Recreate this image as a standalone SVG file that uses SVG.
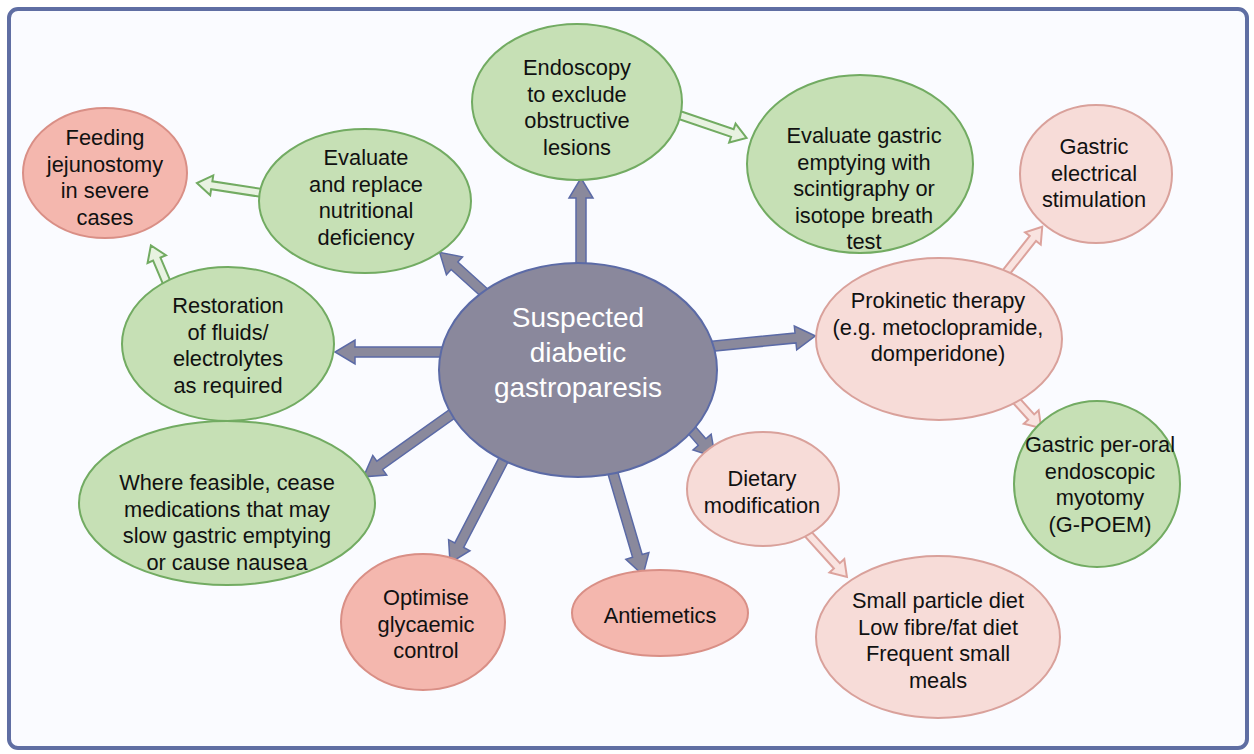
<svg xmlns="http://www.w3.org/2000/svg" width="1254" height="754" viewBox="0 0 1254 754">
<style>
text{font-family:"Liberation Sans",Arial,sans-serif;font-size:21.8px;fill:#111;text-anchor:middle}
.green{fill:#c6e0b5;stroke:#72ab62;stroke-width:2}
.lpink{fill:#f7dcd8;stroke:#d9a19b;stroke-width:2}
.dpink{fill:#f4b7ae;stroke:#d98f86;stroke-width:2}
.center{fill:#8a889c;stroke:#5b6aa6;stroke-width:2}
.ga{fill:#8a899c;stroke:#5b6aa6;stroke-width:1.5;stroke-linejoin:miter}
.ha{fill:#e8f2e1;stroke:#72ab62;stroke-width:2}
.pa{fill:#f9e3e0;stroke:#dca29c;stroke-width:2}
.ct{fill:#fff;font-size:28px}
</style>
<rect x="9" y="9" width="1238" height="739" rx="9" fill="#fafbff" stroke="#5f6ea3" stroke-width="4"/>
<g id="connectors">
<polygon class="ga" transform="translate(581,290) rotate(-90)" points="0,-5 92,-5 92,-12 112,0 92,12 92,5 0,5"/>
<polygon class="ga" transform="translate(499,306) rotate(-137.9)" points="0,-5 60,-5 60,-12 80,0 60,12 60,5 0,5"/>
<polygon class="ga" transform="translate(470,352) rotate(180)" points="0,-5 115,-5 115,-12 135,0 115,12 115,5 0,5"/>
<polygon class="ga" transform="translate(695,348) rotate(-5.71)" points="0,-5 101,-5 101,-12 121,0 101,12 101,5 0,5"/>
<polygon class="ga" transform="translate(480,394) rotate(144.6)" points="0,-5 123,-5 123,-12 143,0 123,12 123,5 0,5"/>
<polygon class="ga" transform="translate(520,428) rotate(117.4)" points="0,-5 132,-5 132,-12 152,0 132,12 132,5 0,5"/>
<polygon class="ga" transform="translate(602,436) rotate(73.56)" points="0,-5 125,-5 125,-12 145,0 125,12 125,5 0,5"/>
<polygon class="ga" transform="translate(670,405) rotate(49.1)" points="0,-5 49,-5 49,-12 69,0 49,12 49,5 0,5"/>
<polygon class="ha" transform="translate(650,105) rotate(18.8)" points="0,-4 87,-4 87,-10 102,0 87,10 87,4 0,4"/>
<polygon class="ha" transform="translate(275,195) rotate(-171.25)" points="0,-4 64,-4 64,-10 79,0 64,10 64,4 0,4"/>
<polygon class="ha" transform="translate(172,295) rotate(-113)" points="0,-4 39,-4 39,-10 54,0 39,10 39,4 0,4"/>
<polygon class="pa" transform="translate(1000,280) rotate(-51.6)" points="0,-4 53,-4 53,-10 68,0 53,10 53,4 0,4"/>
<polygon class="pa" transform="translate(995,377) rotate(47.9)" points="0,-4 54,-4 54,-10 69,0 54,10 54,4 0,4"/>
<polygon class="pa" transform="translate(800,525) rotate(47.9)" points="0,-4 55,-4 55,-10 70,0 55,10 55,4 0,4"/>
</g>
<g id="center">
<ellipse class="center" cx="578" cy="370" rx="139" ry="107"/>
<text class="ct" x="578" y="327">Suspected</text>
<text class="ct" x="578" y="362">diabetic</text>
<text class="ct" x="578" y="397">gastroparesis</text>
</g>
<g id="endoscopy">
<ellipse class="green" cx="577" cy="102" rx="105" ry="78"/>
<text x="577" y="75">Endoscopy</text>
<text x="577" y="101.5">to exclude</text>
<text x="577" y="128">obstructive</text>
<text x="577" y="154.5">lesions</text>
</g>
<g id="gastric-emptying">
<ellipse class="green" cx="860" cy="164" rx="113" ry="89"/>
<text x="864" y="143">Evaluate gastric</text>
<text x="864" y="169.5">emptying with</text>
<text x="864" y="196">scintigraphy or</text>
<text x="864" y="222.5">isotope breath</text>
<text x="864" y="249">test</text>
</g>
<g id="electrical-stimulation">
<ellipse class="lpink" cx="1096" cy="174" rx="76" ry="69"/>
<text x="1094" y="154">Gastric</text>
<text x="1094" y="180.5">electrical</text>
<text x="1094" y="207">stimulation</text>
</g>
<g id="prokinetic">
<ellipse class="lpink" cx="939" cy="339" rx="123" ry="81"/>
<text x="938" y="308">Prokinetic therapy</text>
<text x="938" y="334.5">(e.g. metoclopramide,</text>
<text x="938" y="361">domperidone)</text>
</g>
<g id="gpoem">
<ellipse class="green" cx="1097" cy="484" rx="83" ry="83"/>
<text x="1100" y="452">Gastric per-oral</text>
<text x="1100" y="478.5">endoscopic</text>
<text x="1100" y="505">myotomy</text>
<text x="1100" y="531.5">(G-POEM)</text>
</g>
<g id="dietary">
<ellipse class="lpink" cx="763" cy="489" rx="76" ry="57"/>
<text x="762" y="486">Dietary</text>
<text x="762" y="512.5">modification</text>
</g>
<g id="small-particle">
<ellipse class="lpink" cx="938" cy="637" rx="122" ry="81"/>
<text x="938" y="608">Small particle diet</text>
<text x="938" y="634.5">Low fibre/fat diet</text>
<text x="938" y="661">Frequent small</text>
<text x="938" y="687.5">meals</text>
</g>
<g id="antiemetics">
<ellipse class="dpink" cx="660" cy="613" rx="88" ry="43"/>
<text x="660" y="623">Antiemetics</text>
</g>
<g id="glycaemic">
<ellipse class="dpink" cx="423" cy="622" rx="82" ry="68"/>
<text x="426" y="605">Optimise</text>
<text x="426" y="631.5">glycaemic</text>
<text x="426" y="658">control</text>
</g>
<g id="medications">
<ellipse class="green" cx="227" cy="503" rx="148" ry="82"/>
<text x="227" y="490">Where feasible, cease</text>
<text x="227" y="516.5">medications that may</text>
<text x="227" y="543">slow gastric emptying</text>
<text x="227" y="569.5">or cause nausea</text>
</g>
<g id="restoration">
<ellipse class="green" cx="228" cy="344" rx="106" ry="77"/>
<text x="228" y="313">Restoration</text>
<text x="228" y="339.5">of fluids/</text>
<text x="228" y="366">electrolytes</text>
<text x="228" y="392.5">as required</text>
</g>
<g id="nutrition">
<ellipse class="green" cx="365" cy="201" rx="106" ry="72"/>
<text x="366" y="165">Evaluate</text>
<text x="366" y="191.5">and replace</text>
<text x="366" y="218">nutritional</text>
<text x="366" y="244.5">deficiency</text>
</g>
<g id="jejunostomy">
<ellipse class="dpink" cx="105" cy="173" rx="82" ry="65"/>
<text x="105" y="145">Feeding</text>
<text x="105" y="171.5">jejunostomy</text>
<text x="105" y="198">in severe</text>
<text x="105" y="224.5">cases</text>
</g>
</svg>
